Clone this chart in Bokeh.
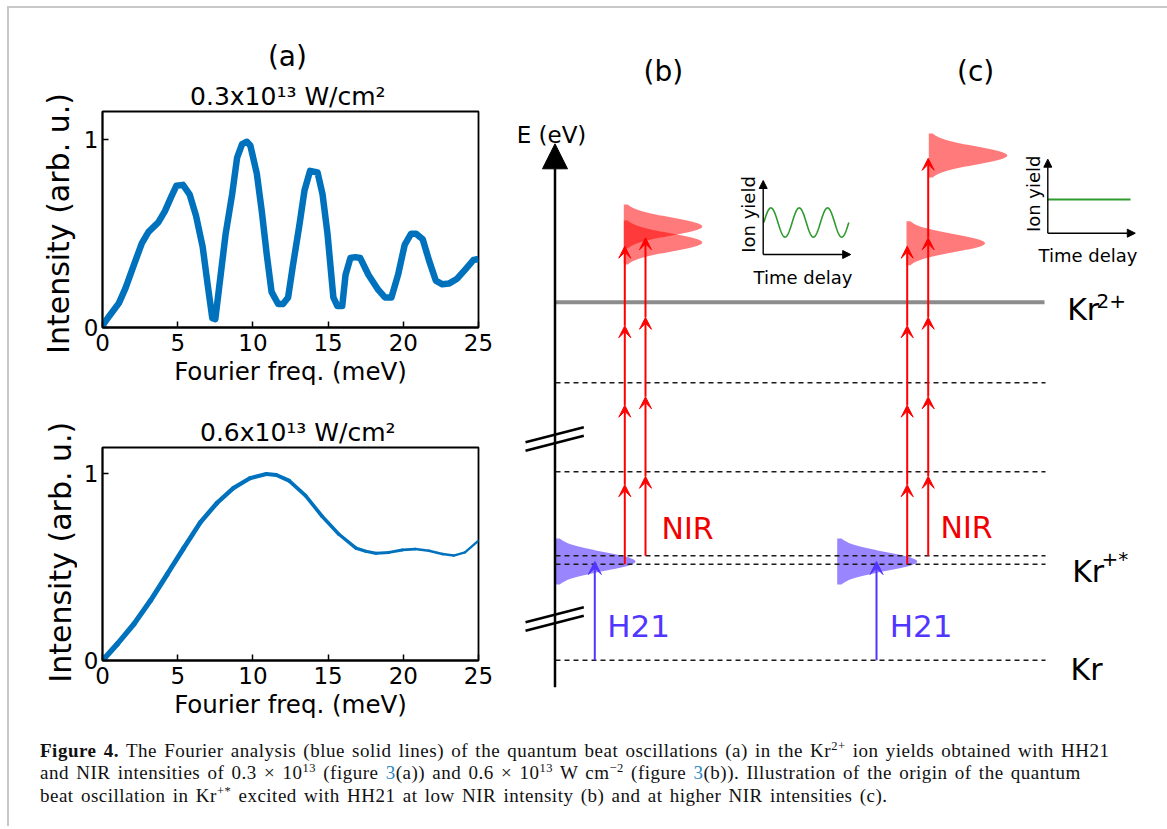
import numpy as np
from bokeh.plotting import figure
from bokeh.models import (Range1d, Arrow, VeeHead, NormalHead,
                          ColumnDataSource, Div, FixedTicker)
from bokeh.layouts import column, row
from bokeh.embed import file_html
from bokeh.resources import INLINE
from bokeh.core.properties import value

FONT = "DejaVu Sans"

# ---------------- panel (a): Fourier spectra ----------------
freq_low = [0.0, 0.44, 1.09, 1.53, 2.07, 2.62, 3.06, 3.71, 4.15, 4.59, 4.91, 5.35,
            5.79, 6.22, 6.66, 6.99, 7.30, 7.50, 7.75, 8.19, 8.62, 8.95, 9.28, 9.60,
            9.83, 10.26, 10.59, 10.92, 11.24, 11.68, 12.0, 12.34, 12.66, 13.1, 13.43,
            13.8, 14.3, 14.63, 14.96, 15.35, 15.61, 15.94, 16.16, 16.48, 16.81, 17.14,
            17.69, 18.34, 18.78, 19.21, 19.65, 20.09, 20.52, 20.85, 21.29, 21.72,
            22.16, 22.6, 23.03, 23.58, 24.13, 24.67, 25.0]
amp_low = [0.01, 0.06, 0.13, 0.21, 0.33, 0.45, 0.51, 0.56, 0.62, 0.70, 0.755, 0.76,
           0.71, 0.595, 0.43, 0.23, 0.05, 0.045, 0.21, 0.50, 0.71, 0.905, 0.977, 0.99,
           0.97, 0.82, 0.62, 0.39, 0.19, 0.125, 0.125, 0.16, 0.33, 0.55, 0.73,
           0.835, 0.826, 0.71, 0.50, 0.16, 0.115, 0.115, 0.28, 0.37, 0.375, 0.37,
           0.28, 0.20, 0.16, 0.16, 0.28, 0.44, 0.50, 0.50, 0.47, 0.355,
           0.25, 0.23, 0.234, 0.26, 0.31, 0.36, 0.365]

freq_high = [0.0, 0.99, 2.09, 3.19, 4.30, 5.40, 6.50, 7.60, 8.70, 9.80, 10.9, 11.56,
             12.4, 13.5, 14.6, 15.7, 16.85, 17.5, 18.2, 19.05, 19.93, 20.8, 21.7,
             22.6, 23.35, 24.1, 25.0]
amp_high = [0.0, 0.089, 0.195, 0.32, 0.46, 0.60, 0.737, 0.84, 0.92, 0.973, 0.995, 0.99,
            0.96, 0.88, 0.77, 0.675, 0.60, 0.583, 0.572, 0.577, 0.59, 0.595, 0.586,
            0.568, 0.56, 0.577, 0.64]

freq_ticks = [0, 5, 10, 15, 20, 25]
amp_ticks = [0, 1]
panel_a_label = "(a)"
title_low = "0.3x10\u00b9\u00b3 W/cm\u00b2"
title_high = "0.6x10\u00b9\u00b3 W/cm\u00b2"
xlabel = "Fourier freq. (meV)"
ylabel = "Intensity (arb. u.)"

# ---------------- panels (b), (c): level scheme ----------------
E_KR = 70.3            # Kr ground state
E_KRX_LO = 166.3       # Kr+* lower sub-level
E_KRX_HI = 174.7       # Kr+* upper sub-level
E_KRX_C = 169.0        # centre of HH21 wave packet
virtual_levels = [258.7, 347.7]
E_KR2 = 428.3          # Kr2+ threshold
photon = 79.5          # NIR photon energy (diagram units)

h21_x = [94.3, 376.0]
nir_x = [124.3, 145.0, 406.7, 427.7]
nir_start = [E_KRX_LO, E_KRX_HI, E_KRX_LO, E_KRX_HI]
nir_n = [4, 4, 4, 5]

blue_x0 = [55.0, 336.7]
red_x0 = [123.3, 123.3, 406.0, 428.3]
red_center = [504.0, 488.0, 487.3, 575.0]

panel_labels = ["(b)", "(c)"]
panel_label_x = [162.9, 475.1]

STRIP_W = 68
PLOT_W = 491 - STRIP_W


def blank(w, h):
    return figure(width=w, height=h, x_range=Range1d(0, w), y_range=Range1d(0, h),
                  x_axis_type=None, y_axis_type=None, output_backend="svg",
                  toolbar_location=None, min_border=0, outline_line_color=None)


def text_strip(h, texts, xs, ys, sizes):
    p = blank(PLOT_W, h)
    for t, x, y, s in zip(texts, xs, ys, sizes):
        p.text(x=[x], y=[y], text=[t], text_font=value(FONT), text_font_size=s,
               text_align="center", text_baseline="alphabetic", text_color="black")
    return p


def make_a(fx, fy, h, mbl, mbr, mbt, mbb, ymax, lw):
    p = figure(width=PLOT_W, height=h, x_range=Range1d(0, 25), y_range=Range1d(0, ymax),
               output_backend="svg", toolbar_location=None,
               min_border_left=mbl, min_border_right=mbr,
               min_border_top=mbt, min_border_bottom=mbb)
    p.grid.visible = False
    p.outline_line_color = "black"
    p.outline_line_width = 1.8
    p.xaxis.ticker = FixedTicker(ticks=freq_ticks)
    p.yaxis.ticker = FixedTicker(ticks=amp_ticks)
    for ax in p.axis:
        ax.major_tick_in = 6
        ax.major_tick_out = 0
        ax.major_tick_line_width = 1.5
        ax.major_tick_line_color = "black"
        ax.minor_tick_line_color = None
        ax.axis_line_width = 1.8
        ax.axis_line_color = "black"
        ax.major_label_text_font = FONT
        ax.major_label_text_font_size = "23px"
        ax.major_label_text_color = "black"
        ax.axis_label_text_font = FONT
        ax.axis_label_text_font_style = "normal"
        ax.axis_label_text_color = "black"
    p.xaxis.major_label_standoff = 6
    p.xaxis.axis_label_standoff = 3
    p.yaxis.major_label_standoff = 4
    p.xaxis.axis_label = xlabel
    p.xaxis.axis_label_text_font_size = "24.5px"

    if lw is None:
        p.line(fx, fy, line_color="#0072bd", line_width=6.5, line_join="round")
    else:
        fx_a = np.array(fx)
        fy_a = np.array(fy)
        mid = 0.5 * (fx_a[:-1] + fx_a[1:])
        widths = lw[0] + (lw[1] - lw[0]) * mid / 25.0
        src = ColumnDataSource(dict(x0=fx_a[:-1], y0=fy_a[:-1], x1=fx_a[1:], y1=fy_a[1:], w=widths))
        p.segment(x0="x0", y0="y0", x1="x1", y1="y1", line_width="w", source=src,
                  line_color="#0072bd", line_cap="round")
    return p


# y-axis titles of both spectra (long rotated texts, kept in their own strip)
pY = blank(STRIP_W, 722)
pY.text(x=[48.5, 51.0], y=[507.0, 178.3], text=[ylabel, ylabel], text_font=value(FONT),
        text_font_size="30px", text_align="center", text_baseline="middle",
        text_color="black", angle=np.pi / 2)

pT1 = text_strip(101, [panel_a_label, title_low],
                 [276.0 - STRIP_W, 276.5 - STRIP_W], [52.6, 13.5], ["28px", "25px"])
pA1 = make_a(freq_low, amp_low, 281, 97 - 9 - STRIP_W, 22, 2, 63, 1.151, None)
pT2 = text_strip(56, [title_high], [287.7 - STRIP_W], [14.5], ["25px"])
pA2 = make_a(freq_high, amp_high, 284, 102 - 9 - STRIP_W, 20, 1, 70, 1.137, (5.5, 2.2))

# ---------------- diagram figure ----------------
pD = blank(660, 722)


def packet(x0, yc, width, halfspan, sigma):
    ys = np.linspace(yc - halfspan, yc + halfspan, 90)
    xs = x0 + width * np.exp(-(ys - yc) ** 2 / (2 * sigma ** 2))
    return list(np.r_[x0, xs, x0]), list(np.r_[ys[0], ys, ys[-1]])


bx, by = [], []
for x0 in blue_x0:
    a, b = packet(x0, E_KRX_C, 80.0, 23.0, 9.5)
    bx.append(a); by.append(b)
pD.patches(bx, by, fill_color="#5a3cff", fill_alpha=0.62, line_color=None)

rx, ry = [], []
for x0, yc in zip(red_x0, red_center):
    a, b = packet(x0, yc, 78.5, 22.0, 9.0)
    rx.append(a); ry.append(b)
pD.patches(rx, ry, fill_color="#ff0000", fill_alpha=0.52, line_color=None)

# levels
lvl_x0, lvl_x1 = 55.0, 545.0
dashed = [E_KR, E_KRX_LO, E_KRX_HI] + virtual_levels
pD.segment(x0=[lvl_x0] * len(dashed), y0=dashed, x1=[lvl_x1] * len(dashed), y1=dashed,
           line_color="#1a1a1a", line_width=1.6, line_dash="5 4")
pD.segment(x0=[54.5], y0=[E_KR2], x1=[544.0], y1=[E_KR2], line_color="#8c8c8c", line_width=4)

# energy axis with breaks
pD.add_layout(Arrow(x_start=54.5, y_start=43.3, x_end=54.5, y_end=586.7,
                    line_color="black", line_width=2.5,
                    end=NormalHead(size=25, fill_color="black", line_color="black", line_width=1)))
break_y = [291.5, 111.5]
bk_x0, bk_y0, bk_x1, bk_y1 = [], [], [], []
for yb in break_y:
    for off in (-4.3, 4.3):
        bk_x0.append(25.0); bk_y0.append(yb + off - 7.5)
        bk_x1.append(83.3); bk_y1.append(yb + off + 7.5)
pD.segment(x0=bk_x0, y0=bk_y0, x1=bk_x1, y1=bk_y1, line_color="black", line_width=2.6)

# H21 arrows
h21_src = ColumnDataSource(dict(x=h21_x, y0=[E_KR] * 2, y1=[E_KRX_C] * 2))
pD.add_layout(Arrow(x_start="x", y_start="y0", x_end="x", y_end="y1", source=h21_src,
                    line_color="#5036ff", line_width=2,
                    end=VeeHead(size=13, fill_color="#5036ff", line_color="#5036ff", line_width=1)))

# NIR photon arrows
nx, ny0, ny1 = [], [], []
for x, e0, n in zip(nir_x, nir_start, nir_n):
    for k in range(n):
        nx.append(x); ny0.append(e0 + k * photon); ny1.append(e0 + (k + 1) * photon)
nir_src = ColumnDataSource(dict(x=nx, y0=ny0, y1=ny1))
pD.add_layout(Arrow(x_start="x", y_start="y0", x_end="x", y_end="y1", source=nir_src,
                    line_color="#ff0000", line_width=2,
                    end=VeeHead(size=12, fill_color="#ff0000", line_color="#ff0000", line_width=1)))

# insets
inset_ox = [262.7, 547.3]
inset_oy = [476.0, 497.3]
inset_lx = 87.5
inset_ly = 74.0
for ox, oy in zip(inset_ox, inset_oy):
    pD.add_layout(Arrow(x_start=ox, y_start=oy, x_end=ox, y_end=oy + inset_ly,
                        line_color="black", line_width=1.4,
                        end=NormalHead(size=8, fill_color="black", line_color="black", line_width=1)))
    pD.add_layout(Arrow(x_start=ox, y_start=oy, x_end=ox + inset_lx, y_end=oy,
                        line_color="black", line_width=1.4,
                        end=NormalHead(size=8, fill_color="black", line_color="black", line_width=1)))
n_cycles = 3
sx = np.linspace(263.3, 348.3, 240)
sy = 508.0 + 14.6 * np.sin(2 * np.pi * n_cycles * (sx - sx[0]) / (sx[-1] - sx[0]))
pD.line(sx, sy, line_color="#2e9a2e", line_width=1.6)
pD.line([547.3, 630.0], [531.0, 531.0], line_color="#2e9a2e", line_width=1.8)


def txt(x, y, s, size, color="black", align="left", angle=0.0):
    pD.text(x=x, y=y, text=s, text_font=value(FONT), text_font_size=size,
            text_color=color, text_align=align, text_baseline="alphabetic", angle=angle)


txt([51.0], [595.7], ["E (eV)"], "23px", align="center")
txt(panel_label_x, [659.5, 659.5], panel_labels, "28px", align="center")
txt([566.7, 571.7, 570.0], [420.7, 159.3, 60.7], ["Kr", "Kr", "Kr"], "30px")
txt([596.0], [430.0], ["2+"], "20px")
txt([601.0], [172.0], ["+*"], "20px")
txt([161.0, 440.0], [202.5, 203.3], ["NIR", "NIR"], "30px", color="#f00000")
txt([106.7, 389.3], [104.5, 105.0], ["H21", "H21"], "31px", color="#5036ff")
txt([248.0, 533.0], [516.0, 536.7], ["Ion yield", "Ion yield"], "18px", align="center",
    angle=np.pi / 2)
txt([302.5, 587.5], [453.5, 475.2], ["Time delay", "Time delay"], "18px", align="center")

# ---------------- caption ----------------
sup = 'style="font-size:12.5px;line-height:0;vertical-align:7px;"'
blue = 'style="color:#2a87c6;"'
caption_html = (
    '<div style="font-family:\'Liberation Serif\',serif;font-size:19px;line-height:22.3px;'
    'letter-spacing:0.5px;word-spacing:2px;'
    'color:#111;white-space:nowrap;padding:5px 0 0 26px;">'
    '<b>Figure 4.</b> The Fourier analysis (blue solid lines) of the quantum beat oscillations '
    '(a) in the Kr<sup ' + sup + '>2+</sup> ion yields obtained with HH21<br>'
    'and NIR intensities of 0.3 \u00d7 10<sup ' + sup + '>13</sup> (figure <span ' + blue + '>3</span>(a)) '
    'and 0.6 \u00d7 10<sup ' + sup + '>13</sup> W cm<sup ' + sup + '>\u22122</sup> (figure <span ' + blue +
    '>3</span>(b)). Illustration of the origin of the quantum<br>'
    'beat oscillation in Kr<sup ' + sup + '>+*</sup> excited with HH21 at low NIR intensity (b) '
    'and at higher NIR intensities (c).</div>'
)
caption = Div(text=caption_html, width=1151, height=86)

left = row(pY, column(pT1, pA1, pT2, pA2))
layout = column(row(left, pD), caption,
                margin=(6, 0, 0, 7),
                styles={"border-left": "2px solid #c8c8c8", "border-top": "2px solid #c8c8c8",
                        "border-right": "2px solid #c8c8c8"})

open("out.html", "w").write(file_html(layout, INLINE))
